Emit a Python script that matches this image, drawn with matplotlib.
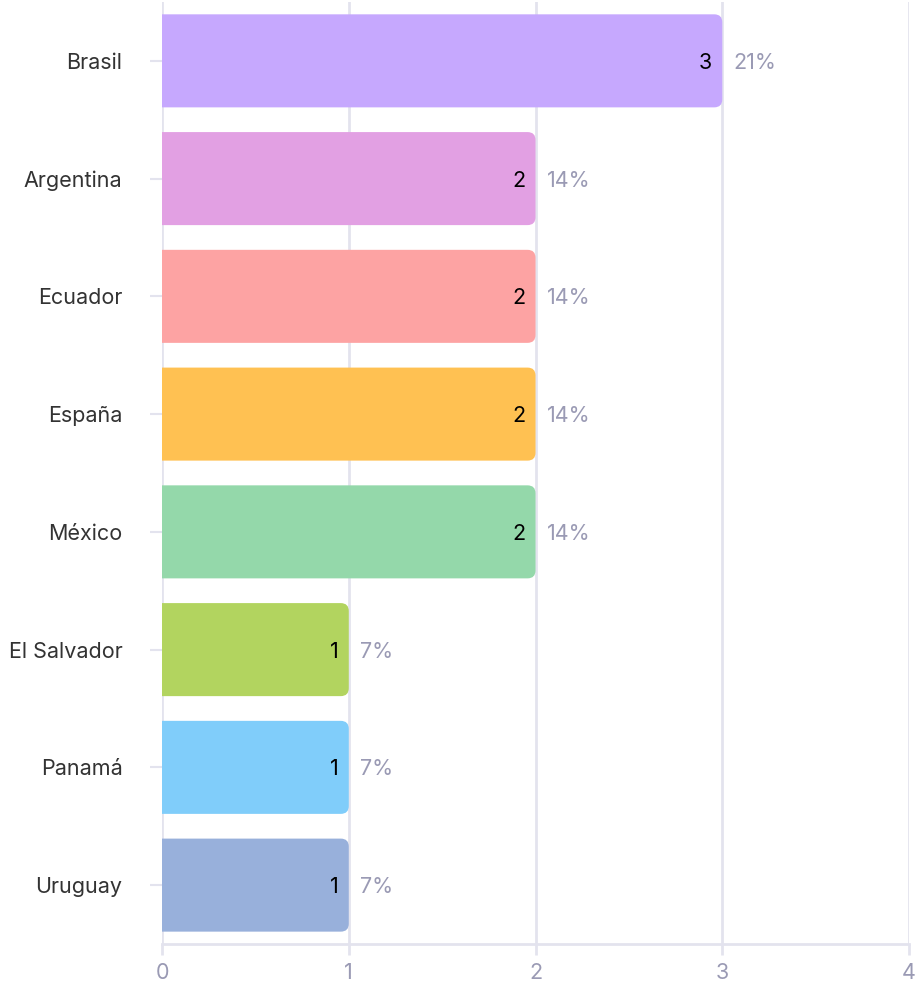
import matplotlib.pyplot as plt
import matplotlib.transforms as mtransforms
from matplotlib.patches import FancyBboxPatch

countries = ['Brasil', 'Argentina', 'Ecuador', 'España', 'México',
             'El Salvador', 'Panamá', 'Uruguay']
counts = [3, 2, 2, 2, 2, 1, 1, 1]
colors = ['#c6a8fe', '#e2a0e3', '#fda3a3', '#ffc152', '#94d8aa',
          '#b2d45f', '#80cdfa', '#98b0db']

plt.rcParams['font.family'] = ['Inter', 'DejaVu Sans']

grid_c = '#e3e3ee'
tick_c = '#9a9ab4'

fig = plt.figure(figsize=(9.17, 9.82), dpi=100)
ax = fig.add_axes([0.1767, 0.0387, 0.8146, 0.9593])

ax.set_xlim(0, 4)
ax.set_ylim(len(countries) - 0.5, -0.5)

# pixel -> data scaling for rounded corners
px_x = 4 / (0.8146 * 917)
px_y = 8 / (0.9593 * 982)
radius = 8 * px_x
aspect = px_y / px_x

bar_h = 0.79
total = sum(counts)
for i, (v, c) in enumerate(zip(counts, colors)):
    box = FancyBboxPatch((-radius * 2, i - bar_h / 2), v + radius * 2, bar_h,
                         boxstyle=f'round,pad=0,rounding_size={radius}',
                         mutation_aspect=aspect, facecolor=c, edgecolor='none',
                         zorder=3)
    ax.add_patch(box)
    ax.text(v - 10 * px_x, i + 2 * px_y, str(v), ha='right', va='center',
            fontsize=15.5, color='black', zorder=4)
    ax.text(v + 11 * px_x, i + 2 * px_y, f'{round(100 * v / total)}%',
            ha='left', va='center', fontsize=15.5, color=tick_c, zorder=4)

ax.set_xticks(range(5))
ax.set_yticks(range(len(countries)))
ax.set_yticklabels(countries)
# nudge country labels down a few pixels
shift = mtransforms.ScaledTranslation(0, -3 / 100, fig.dpi_scale_trans)
for lbl in ax.get_yticklabels():
    lbl.set_transform(lbl.get_transform() + shift)
ax.grid(axis='x', color=grid_c, linewidth=2, zorder=0)
ax.set_axisbelow(True)

for s in ['top', 'right', 'left']:
    ax.spines[s].set_visible(False)
ax.spines['bottom'].set_color(grid_c)
ax.spines['bottom'].set_linewidth(2)

ax.tick_params(axis='x', colors=grid_c, labelcolor=tick_c, labelsize=15.5,
               length=8, width=2, pad=6)
ax.tick_params(axis='y', colors=grid_c, labelcolor='#333333', labelsize=15.5,
               length=8.5, width=1.5, pad=20)

fig.savefig('out.png', dpi=100)
